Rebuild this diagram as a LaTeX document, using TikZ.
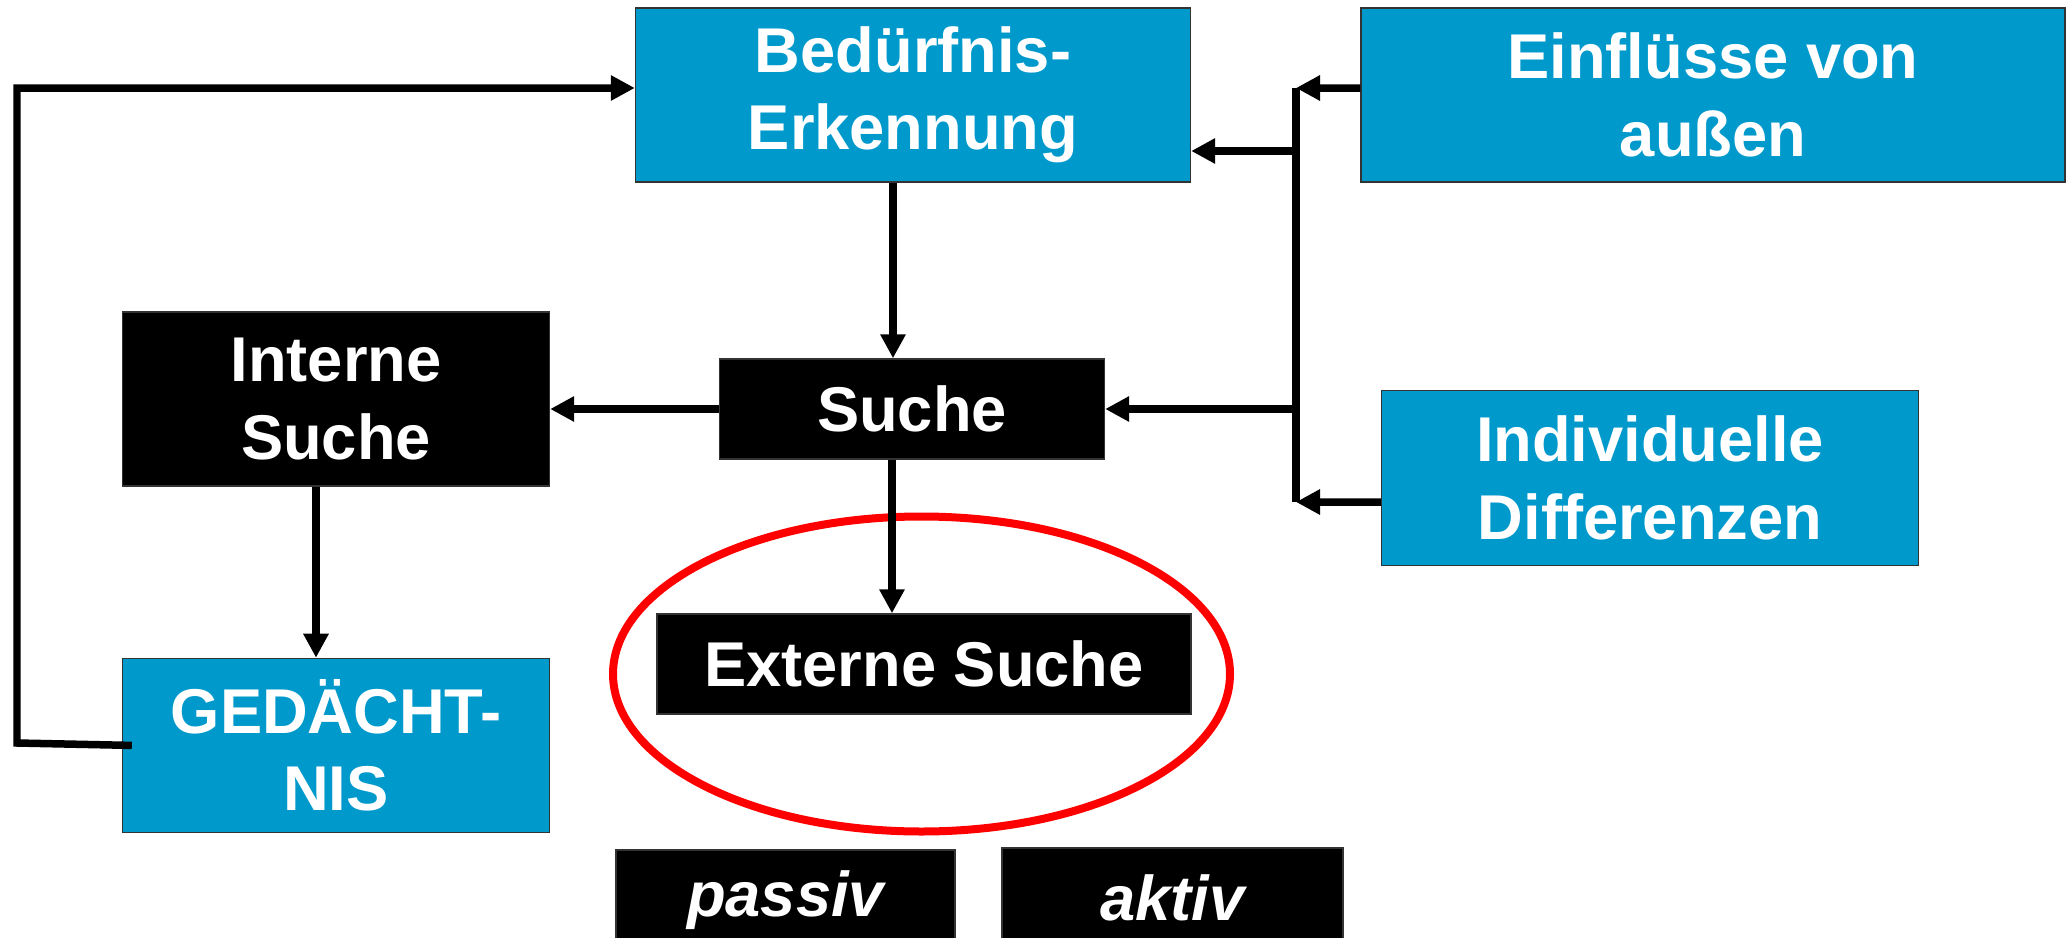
\documentclass[tikz,border=0pt]{standalone}
\usepackage{fontspec}
\setmainfont{Liberation Sans}
\usetikzlibrary{positioning,calc,arrows.meta}
\definecolor{processblue}{RGB}{0,153,204}
\tikzstyle{box} = [rectangle, draw=black!80, line width=0.4pt, text=white, align=center, inner sep=0pt, font=\fontsize{18}{22}\selectfont\bfseries]
\tikzstyle{bluebox} = [box, fill=processblue, minimum height=1.74cm]
\tikzstyle{blackbox} = [box, fill=black]
\tikzstyle{arrow} = [line width=0.075cm, -{Triangle[length=0.24cm,width=0.24cm]}]
\tikzstyle{line} = [line width=0.075cm]

\begin{document}
\begin{tikzpicture}
        \useasboundingbox (0,0) rectangle (20.72,-9.38);
        % Top row ----------------------------------------------------------------------------------
        \node[bluebox, minimum width=5.55cm](bed) at (9.13,-0.95){Bedürfnis-\\Erkennung};
        \node[bluebox, minimum width=7.04cm](einfl) at (17.13,-0.95){Einflüsse von\\außen};
        % Search -----------------------------------------------------------------------------------
        \node[blackbox, minimum width=3.85cm, minimum height=1cm](suche) at (9.12,-4.09){Suche};
        \node[blackbox, minimum width=4.27cm, minimum height=1.74cm](intern) at (3.36,-3.99){Interne\\Suche};
        \node[bluebox, minimum width=5.37cm, minimum height=1.75cm](indiv) at (16.50,-4.78){Individuelle\\Differenzen};
        \node[bluebox, minimum width=4.27cm, below=1.71cm of intern](ged){GEDÄCHT-\\NIS};
        \node[blackbox, minimum width=5.34cm, minimum height=1cm](extern) at (9.24,-6.64){Externe Suche};
        % Modes ------------------------------------------------------------------------------------
        \node[blackbox, minimum width=3.39cm, minimum height=1cm, font=\fontsize{18}{22}\selectfont\bfseries\itshape](passiv) at (7.855,-9.00){passiv};
        \node[blackbox, minimum width=3.41cm, minimum height=1cm, font=\fontsize{18}{22}\selectfont\bfseries\itshape](aktiv) at (11.725,-8.98){aktiv};
        % Highlight
        \draw[red, line width=0.08cm] (9.215,-6.74) ellipse [x radius=3.085, y radius=1.575];
        % Bus and loop -----------------------------------------------------------------------------
        \coordinate (bustop) at (12.96,-0.88);
        \coordinate (busbot) at (12.96,-5.02);
        \coordinate (loop) at (0.17,-7.43);
        \draw[line] (bustop) -- (busbot);
        % Arrows -----------------------------------------------------------------------------------
        \draw[arrow] ([yshift=0.7mm]einfl.west) -- (bustop);
        \draw[arrow] ([yshift=-2.4mm]indiv.west) -- (busbot);
        \draw[arrow] ([yshift=-5.6mm]bed.east -| bustop) -- ([yshift=-5.6mm]bed.east);
        \draw[arrow] (suche.east -| bustop) -- (suche.east);
        \draw[arrow] ([xshift=-2mm]bed.south) -- ([xshift=-2mm]bed.south |- suche.north);
        \draw[arrow] ([xshift=-2mm]suche.south) -- ([xshift=-2mm]suche.south |- extern.north);
        \draw[arrow] (suche.west) -- (suche.west -| intern.east);
        \draw[arrow] ([xshift=-2mm]intern.south) -- ([xshift=-2mm]ged.north);
        \draw[arrow] ([xshift=1mm]ged.west) -- (loop) |- ([yshift=0.7mm]bed.west);
    \end{tikzpicture}
\end{document}
